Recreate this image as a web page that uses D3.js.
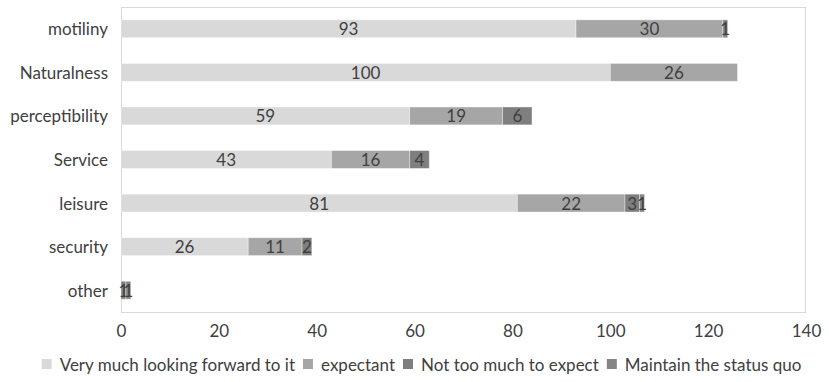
<!DOCTYPE html>
<html><head><meta charset="utf-8">
<script src="https://cdn.jsdelivr.net/npm/d3@7"></script>
<style>
html,body{margin:0;padding:0;background:#fff;}
svg text{font-family:Lato,"Open Sans",sans-serif;fill:#404040;}
</style></head>
<body><svg id="c" width="829" height="382"></svg>
<script>
const categories = ["motiliny","Naturalness","perceptibility","Service","leisure","security","other"];
const seriesNames = ["Very much looking forward to it","expectant","Not too much to expect","Maintain the status quo"];
const veryMuch = [93,100,59,43,81,26,0];
const expectant = [30,26,19,16,22,11,0];
const notTooMuch = [1,0,6,4,3,2,1];
const maintain = [0,0,0,0,1,0,1];
const xTicks = [0,20,40,60,80,100,120,140];
const colors = ["#d9d9d9","#a6a6a6","#7f7f7f","#858585"];

const svg = d3.select("#c");
const m = {l:121, r:806, t:7, b:312};
const x = d3.scaleLinear().domain([0,140]).range([m.l, m.r]);
const y = d3.scaleBand().domain(categories).range([m.t, m.b]).paddingInner(0.59).paddingOuter(0.295);

svg.append("rect").attr("x",m.l+0.5).attr("y",m.t+0.5).attr("width",m.r-m.l-1).attr("height",m.b-m.t)
  .attr("fill","none").attr("stroke","#d9d9d9").attr("stroke-width",1);

const rows = categories.map((c,i)=>({cat:c, Values:[veryMuch[i],expectant[i],notTooMuch[i],maintain[i]]}));
const keys = [0,1,2,3];
const stacked = d3.stack().keys(keys).value((d,k)=>d.Values[k])(rows);

stacked.forEach((layer,si)=>{
  const g = svg.append("g");
  g.selectAll("rect").data(layer.filter(d=>d[1]-d[0]>0)).join("rect")
    .attr("x",d=>x(d[0])).attr("width",d=>x(d[1])-x(d[0]))
    .attr("y",d=>y(d.data.cat)).attr("height",y.bandwidth())
    .attr("fill",colors[si]).attr("stroke","#ffffff").attr("stroke-opacity",0.45).attr("stroke-width",0.8);
  g.selectAll("text").data(layer.filter(d=>d[1]-d[0]>0)).join("text")
    .attr("x",d=>x((d[0]+d[1])/2)).attr("y",d=>y(d.data.cat)+y.bandwidth()/2)
    .attr("text-anchor","middle").attr("dominant-baseline","central")
    .style("font-size","17px").text(d=>d[1]-d[0]);
});

// category labels
svg.append("g").selectAll("text").data(categories).join("text")
  .attr("x",108).attr("y",d=>y(d)+y.bandwidth()/2).attr("text-anchor","end")
  .attr("dominant-baseline","central").style("font-size","17px").text(d=>d);

// x axis
const ax = svg.append("g").attr("transform",`translate(0,${m.b})`)
  .call(d3.axisBottom(x).tickValues(xTicks).tickSize(0).tickPadding(13));
ax.select(".domain").remove();
ax.selectAll("text").style("font-size","17px").attr("fill","#404040").style("font-family","Lato,'Open Sans',sans-serif");

// legend
const lg = svg.append("g");
const items = [];
seriesNames.forEach((n,i)=>{
  const it = lg.append("g");
  it.append("rect").attr("x",0).attr("y",-5).attr("width",10).attr("height",10).attr("fill",colors[i]);
  const t = it.append("text").attr("x",18).attr("y",0).attr("dominant-baseline","central").style("font-size","17px").text(n);
  items.push({g:it, w:18+t.node().getComputedTextLength()});
});
const gap = 8;
const total = d3.sum(items,d=>d.w)+gap*(items.length-1);
let start = (43+800)/2 - total/2;
items.forEach(d=>{ d.g.attr("transform",`translate(${start},364)`); start += d.w+gap; });
</script></body></html>
